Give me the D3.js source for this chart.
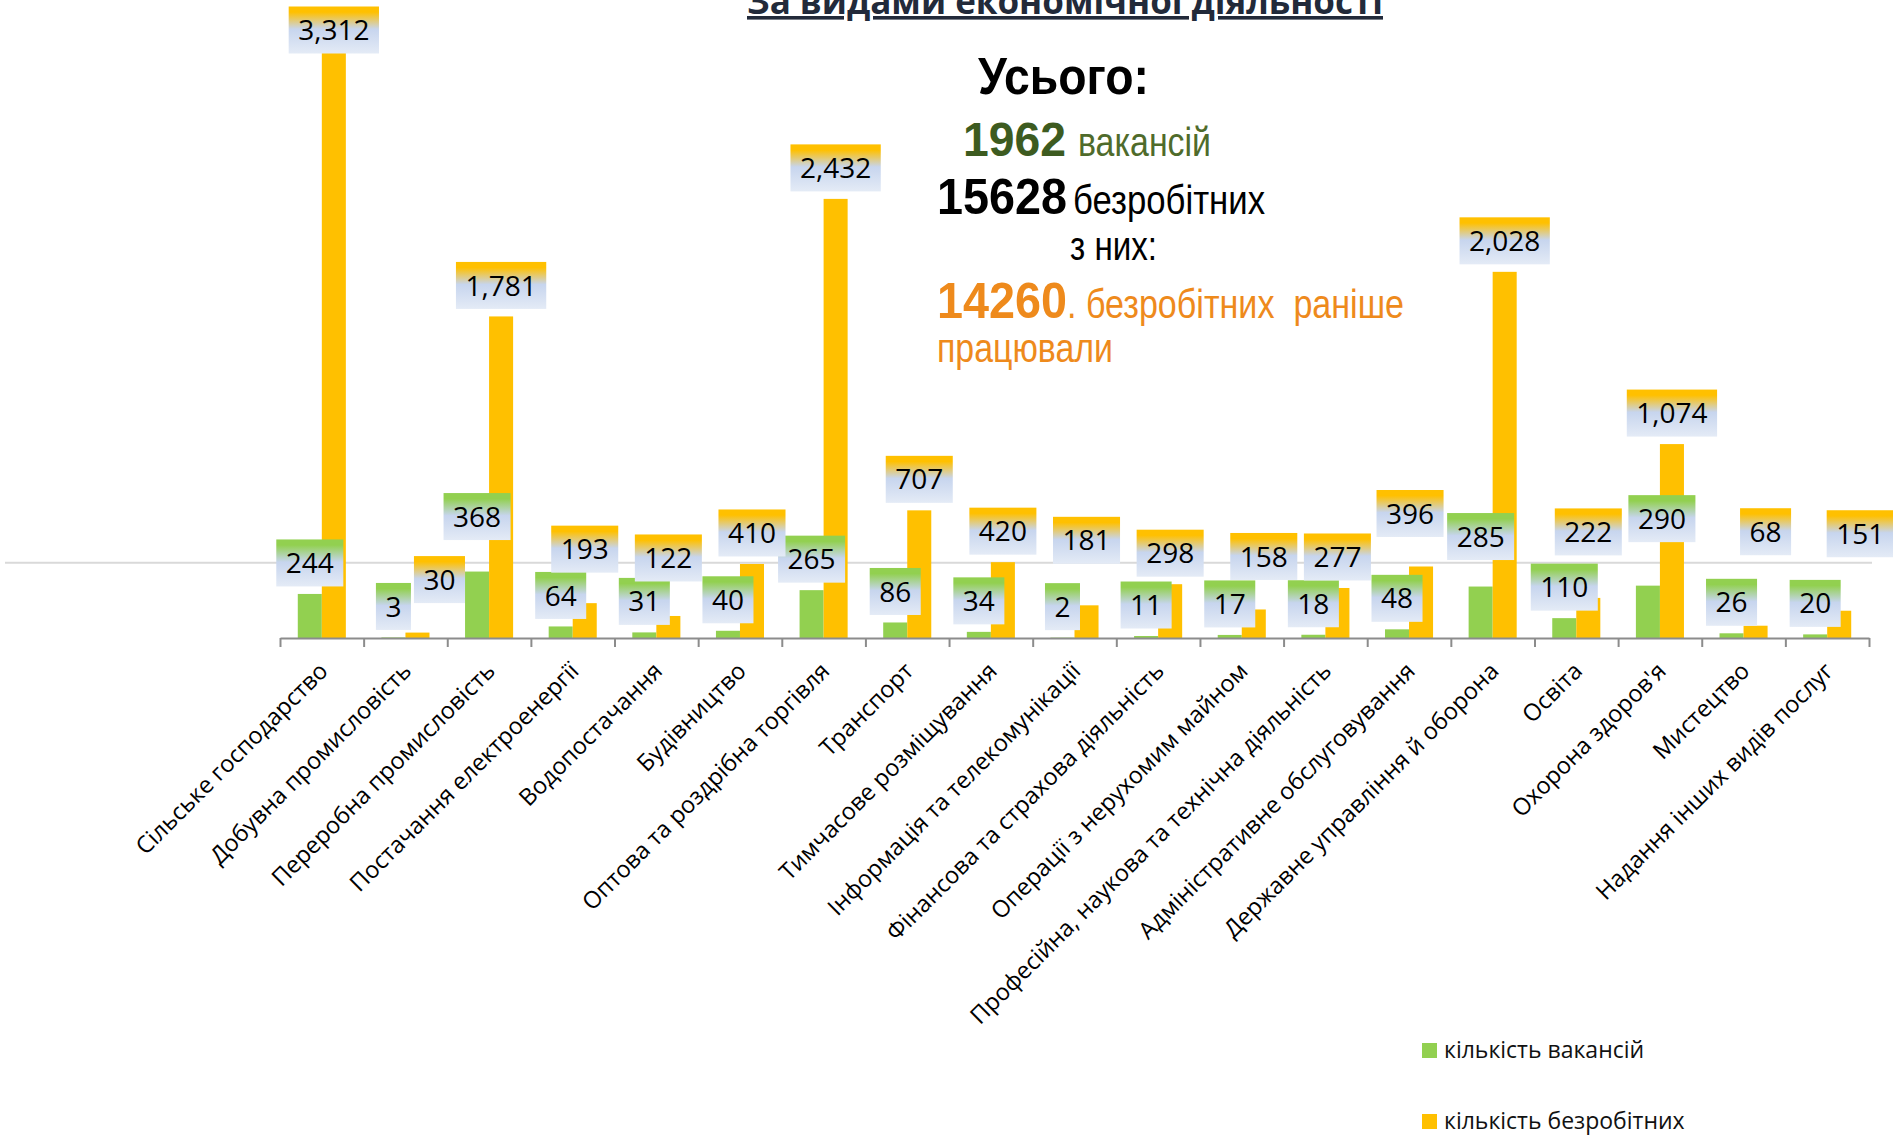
<!DOCTYPE html>
<html>
<head>
<meta charset="utf-8">
<script src="https://cdn.jsdelivr.net/npm/d3@7"></script>
<style>
	body { margin: 0; background: #fff; }
	svg { display: block; }
</style>
</head>
<body>
<svg id="chart" width="1893" height="1138"></svg>
<script>
// chart data
var categories = ['Сільське господарство', 'Добувна промисловість', 'Переробна промисловість', 'Постачання електроенергії',
	'Водопостачання', 'Будівництво', 'Оптова та роздрібна торгівля', 'Транспорт', 'Тимчасове розміщування',
	'Інформація та телекомунікації', 'Фінансова та страхова діяльність', 'Операції з нерухомим майном',
	'Професійна, наукова та технічна діяльність', 'Адміністративне обслуговування', 'Державне управління й оборона',
	'Освіта', "Охорона здоров'я", 'Мистецтво', 'Надання інших видів послуг'];
var vacancies = [244, 3, 368, 64, 31, 40, 265, 86, 34, 2, 11, 17, 18, 48, 285, 110, 290, 26, 20];
var unemployed = [3312, 30, 1781, 193, 122, 410, 2432, 707, 420, 181, 298, 158, 277, 396, 2028, 222, 1074, 68, 151];
var seriesNames = ['кількість вакансій', 'кількість безробітних'];
var seriesColors = ['#92d050', '#ffc000'];
var refLine = [417];
var yMax = 3240;

// data labels were dragged by hand in the original, px nudges from the default spot
var vacNudge = {2: [0, -24], 14: [0, -19], 16: [14, -36]};
var unempNudge = {0: [0, 8], 1: [22, -22], 3: [0, -23], 4: [0, -27], 9: [0, -34], 11: [10, -22],
	13: [-11, -22], 15: [0, -35], 17: [10, -63], 18: [21, -46]};

var svg = d3.select('#chart');
var plotLeft = 280, plotRight = 1869, plotTop = 53, baseY = 638;

var x = d3.scaleBand().domain(categories).range([plotLeft, plotRight]).paddingInner(0).paddingOuter(0);
var xSub = d3.scaleBand().domain([0, 1]).range([0, x.bandwidth()]).paddingInner(0).paddingOuter(0.74);
var y = d3.scaleLinear().domain([0, yMax]).range([baseY, plotTop]);
var fmt = d3.format(',');

var defs = svg.append('defs');
defs.append('clipPath').attr('id', 'plotclip')
	.append('rect').attr('x', 0).attr('y', plotTop).attr('width', 1893).attr('height', baseY - plotTop);

//label box gradients
seriesColors.forEach(function(c, i){
	var gr = defs.append('linearGradient').attr('id', 'lbl' + i)
		.attr('x1', 0).attr('y1', 0).attr('x2', 0).attr('y2', 1);
	gr.append('stop').attr('offset', '0%').attr('stop-color', c);
	gr.append('stop').attr('offset', '12%').attr('stop-color', c);
	gr.append('stop').attr('offset', '48%').attr('stop-color', '#c7d5ee');
	gr.append('stop').attr('offset', '100%').attr('stop-color', '#e4ebf6');
});

// title (cut at the top of the slide)
svg.append('text')
	.attr('x', 1065).attr('y', 14)
	.attr('text-anchor', 'middle')
	.attr('textLength', 636).attr('lengthAdjust', 'spacingAndGlyphs')
	.style('font', 'bold 36px "Open Sans"')
	.style('fill', '#222a3a')
	.style('text-decoration', 'underline')
	.text('За видами економічної діяльності');

//reference line
svg.selectAll('.ref').data(refLine).enter().append('line')
	.attr('x1', 5).attr('x2', 1872)
	.attr('y1', function(d){ return y(d); })
	.attr('y2', function(d){ return y(d); })
	.attr('stroke', '#d9d9d9').attr('stroke-width', 2);

// bars
var rows = categories.map(function(c, i){ return {cat: c, i: i, vals: [vacancies[i], unemployed[i]]}; });

var bars = svg.append('g').attr('clip-path', 'url(#plotclip)');
var groups = bars.selectAll('g').data(rows).enter().append('g')
	.attr('transform', function(d){ return 'translate(' + x(d.cat) + ',0)'; });
groups.selectAll('rect')
	.data(function(d){ return d.vals; })
	.enter().append('rect')
	.attr('x', function(d, k){ return xSub(k); })
	.attr('width', xSub.bandwidth())
	.attr('y', function(d){ return y(d); })
	.attr('height', function(d){ return baseY - y(d); })
	.attr('fill', function(d, k){ return seriesColors[k]; });

// axis
var xTicks = d3.scaleLinear().domain([0, categories.length]).range([plotLeft, plotRight]);
var axis = svg.append('g')
	.attr('transform', 'translate(0,' + baseY + ')')
	.call(d3.axisBottom(xTicks).tickValues(d3.range(categories.length + 1)).tickSize(9).tickSizeOuter(0).tickFormat(''));
axis.select('.domain').attr('stroke', '#8c8c8c').attr('stroke-width', 2);
axis.selectAll('.tick line').attr('stroke', '#8c8c8c').attr('stroke-width', 2);

svg.append('g').selectAll('text').data(categories).enter().append('text')
	.attr('transform', function(d){
		return 'translate(' + (x(d) + x.bandwidth() / 2 - 5) + ',' + (baseY + 22) + ') rotate(-45)';
	})
	.attr('text-anchor', 'end')
	.attr('dy', '0.75em')
	.style('font', '23.5px "Open Sans"')
	.style('fill', '#000')
	.text(function(d){ return d; });

// data labels
function drawLabels(values, k, nudge){
	var g = svg.append('g');
	values.forEach(function(v, i){
		var n = nudge[i] || [0, 0];
		var cx = x(categories[i]) + xSub(k) + xSub.bandwidth() / 2 + n[0];
		var cy = Math.max(y(v), plotTop) - 31 + n[1];
		var lg = g.append('g');
		var rect = lg.append('rect');
		var t = lg.append('text')
			.attr('x', cx).attr('y', cy)
			.attr('text-anchor', 'middle')
			.attr('dy', '0.36em')
			.style('font', '28px "Open Sans"')
			.style('fill', '#000')
			.text(fmt(v));
		var w = t.node().getComputedTextLength() + 19;
		rect.attr('x', cx - w / 2).attr('y', cy - 23.5)
			.attr('width', w).attr('height', 47)
			.attr('fill', 'url(#lbl' + k + ')');
	});
}
drawLabels(vacancies, 0, vacNudge);
drawLabels(unemployed, 1, unempNudge);

// totals block, narrow face squeezed with textLength
function infoText(str, xPos, yPos, len, size, bold, color){
	return svg.append('text')
		.attr('x', xPos).attr('y', yPos)
		.attr('textLength', len).attr('lengthAdjust', 'spacingAndGlyphs')
		.attr('xml:space', 'preserve')
		.style('font-family', '"Liberation Sans", Arial, sans-serif')
		.style('font-size', size + 'px')
		.style('font-weight', bold ? 'bold' : 'normal')
		.style('white-space', 'pre')
		.style('fill', color)
		.text(str);
}
infoText('Усього:', 978, 94, 171, 52, true, '#000');
infoText('1962', 963, 156, 103, 49, true, '#3d5b20');
infoText('вакансій', 1078, 156, 133, 41, false, '#4f6b2b');
infoText('15628', 937, 214, 130, 50, true, '#000');
infoText('безробітних', 1073, 214, 192, 41, false, '#000');
infoText('з них:', 1070, 260, 87, 40, false, '#000');
infoText('14260', 937, 318, 130, 50, true, '#ee8a1c');
infoText('. безробітних  раніше', 1067, 318, 337, 41, false, '#ee8a1c');
infoText('працювали', 937, 362, 176, 41, false, '#ee8a1c');

// legend
var legend = svg.append('g').selectAll('g').data(seriesNames).enter().append('g')
	.attr('transform', function(d, i){ return 'translate(1422,' + (1043 + i * 71) + ')'; });
legend.append('rect').attr('width', 15).attr('height', 15)
	.attr('fill', function(d, i){ return seriesColors[i]; });
legend.append('text').attr('x', 22).attr('y', 15)
	.style('font', '23px "Open Sans"').style('fill', '#111')
	.text(function(d){ return d; });
</script>
</body>
</html>
